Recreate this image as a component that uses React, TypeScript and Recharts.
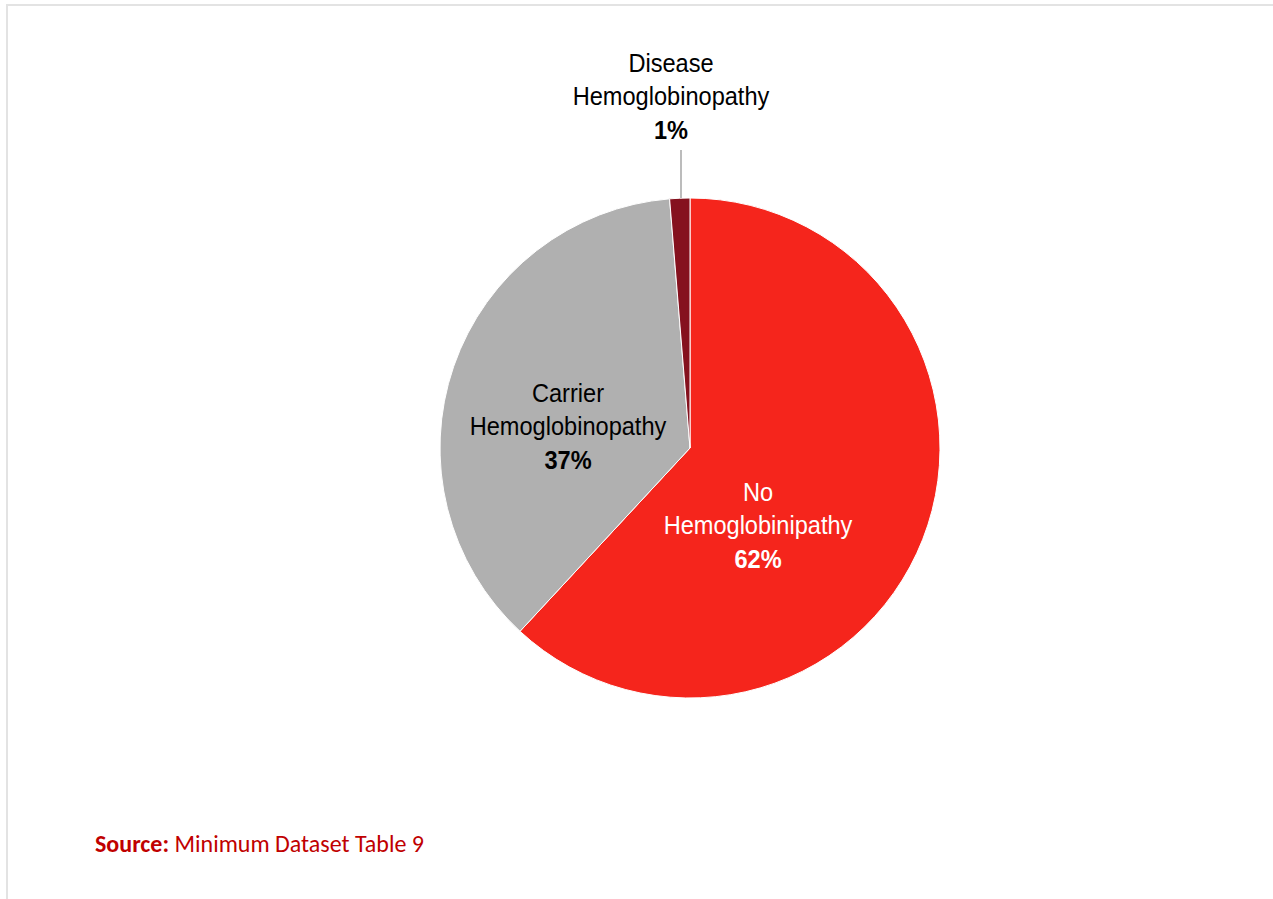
import { PieChart, Pie, Cell } from 'recharts'

const categories = ['No Hemoglobinipathy', 'Carrier Hemoglobinopathy', 'Disease Hemoglobinopathy']
const labelLines = [['No', 'Hemoglobinipathy'], ['Carrier', 'Hemoglobinopathy'], ['Disease', 'Hemoglobinopathy']]
const shares = [61.9, 36.8, 1.3]
const percentLabels = ['62%', '37%', '1%']
const colors = ['#F5251C', '#B0B0B0', '#85111E']

const data = categories.map((name, i) => ({ name, value: shares[i] }))

// where Excel put each label, relative to the pie centre
const labelOffsets = [
  { dx: 68, dy: 43 },
  { dx: -122, dy: -56 },
  { dx: -19, dy: -386 },
]
const LINE = 34
const FONT = "'Liberation Sans Narrow', 'Arial Narrow', 'Liberation Sans', Arial, sans-serif"

const renderLabel = ({ cx, cy, index }: any) => {
  const off = labelOffsets[index]
  const x = cx + off.dx
  const y = cy + off.dy
  const fill = index === 0 ? '#ffffff' : '#000000'
  const lines = labelLines[index]
  // narrow look: squeeze a regular sans a little
  return (
    <g key={`lbl-${index}`}>
      {index === 2 && (
        <line x1={cx - 9} y1={cy - 298} x2={cx - 9} y2={cy - 250} stroke="#A6A6A6" strokeWidth={1.5} />
      )}
      <text
        transform={`translate(${x},${y}) scale(0.89,1)`}
        x={0}
        y={0}
        fill={fill}
        textAnchor="middle"
        dominantBaseline="central"
        fontFamily={FONT}
        fontSize={26.5}
      >
        <tspan x={0} dy={0}>{lines[0]}</tspan>
        <tspan x={0} dy={LINE}>{lines[1]}</tspan>
        <tspan x={0} dy={LINE} fontWeight="bold">{percentLabels[index]}</tspan>
      </text>
    </g>
  )
}

export default function App() {
  return (
    <div style={{ position: 'absolute', left: 0, top: 0, width: 1273, height: 899, background: '#fff' }}>
      <div
        style={{
          position: 'absolute',
          left: 6,
          top: 4,
          width: 1267,
          height: 895,
          borderTop: '2px solid #E3E3E3',
          borderLeft: '2px solid #E3E3E3',
          boxSizing: 'border-box',
        }}
      />
      <div style={{ position: 'absolute', left: 0, top: 0 }}>
        <PieChart width={1273} height={899} margin={{ top: 0, right: 0, bottom: 0, left: 0 }}>
          <Pie
            data={data}
            dataKey="value"
            cx={690}
            cy={448}
            outerRadius={250}
            startAngle={90}
            endAngle={-270}
            stroke="#ffffff"
            strokeWidth={1}
            label={renderLabel}
            labelLine={false}
            isAnimationActive={false}
          >
            {data.map((entry, i) => (
              <Cell key={`cell-${i}`} fill={colors[i]} />
            ))}
          </Pie>
        </PieChart>
      </div>
      <div
        style={{
          position: 'absolute',
          left: 95,
          top: 829,
          fontFamily: "Carlito, Calibri, 'Open Sans', sans-serif",
          fontSize: 24,
          lineHeight: '30px',
          color: '#C00000',
          whiteSpace: 'nowrap',
        }}
      >
        <b>Source:</b> Minimum Dataset Table 9
      </div>
    </div>
  )
}
